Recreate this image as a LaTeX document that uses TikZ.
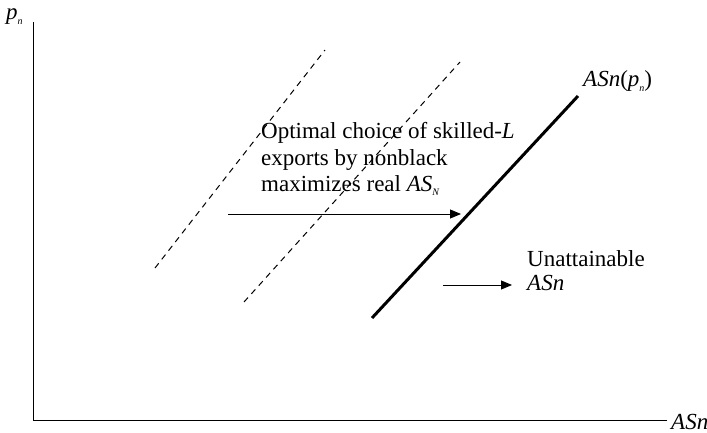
\documentclass[tikz,border=0pt]{standalone}
\usepackage{fontspec}
\setmainfont{Liberation Serif}
\usetikzlibrary{arrows.meta}
\newcommand{\subsc}[1]{\raisebox{-0.45ex}{\fontsize{10}{10}\selectfont\textit{#1}}}
\begin{document}
\begin{tikzpicture}[x=1pt,y=-1pt,
  lbl/.style={inner sep=0pt,font=\fontsize{23}{26}\selectfont,anchor=base west},
  axis/.style={line width=1pt},
  dashln/.style={line width=1pt,dash pattern=on 6pt off 5pt},
  arr/.style={line width=0.9pt,-{Triangle[length=11pt,width=9pt]}}]
\useasboundingbox (0,0) rectangle (707,433);
\coordinate (O) at (33,420);
\coordinate (Ytop) at (33,22);
\coordinate (Xend) at (667,420);
\draw[axis] (Ytop) -- (O) -- (Xend);
\node[lbl] (xl) at (671,429) {\textit{ASn}};
\node[lbl] (yl) at (6,20) {\textit{p}\subsc{n}};
\coordinate (d1a) at (155,268); \coordinate (d1b) at (325,50);
\coordinate (d2a) at (244,302); \coordinate (d2b) at (460,62);
\draw[dashln] (d1a) -- (d1b);
\draw[dashln] (d2a) -- (d2b);
\coordinate (sa) at (372,318); \coordinate (sb) at (578,96);
\draw[line width=3pt] (sa) -- (sb);
\node[lbl] (sl) at (583,87) {\textit{ASn}(\textit{p}\subsc{n})};
\node[lbl] (t1) at (261,139) {Optimal choice of skilled-\textit{L}};
\node[lbl] (t2) at (261,165) {exports by nonblack};
\node[lbl] (t3) at (261,191) {maximizes real \textit{AS}\subsc{N}};
\coordinate (a1s) at (228,214); \coordinate (a1e) at (461,214);
\draw[arr] (a1s) -- (a1e);
\node[lbl] (u1) at (527,266) {Unattainable};
\node[lbl] (u2) at (527,290) {\textit{ASn}};
\coordinate (a2s) at (443,285);
\draw[arr] (a2s) -- ([xshift=-15pt]u2.west |- a2s);
\end{tikzpicture}
\end{document}
